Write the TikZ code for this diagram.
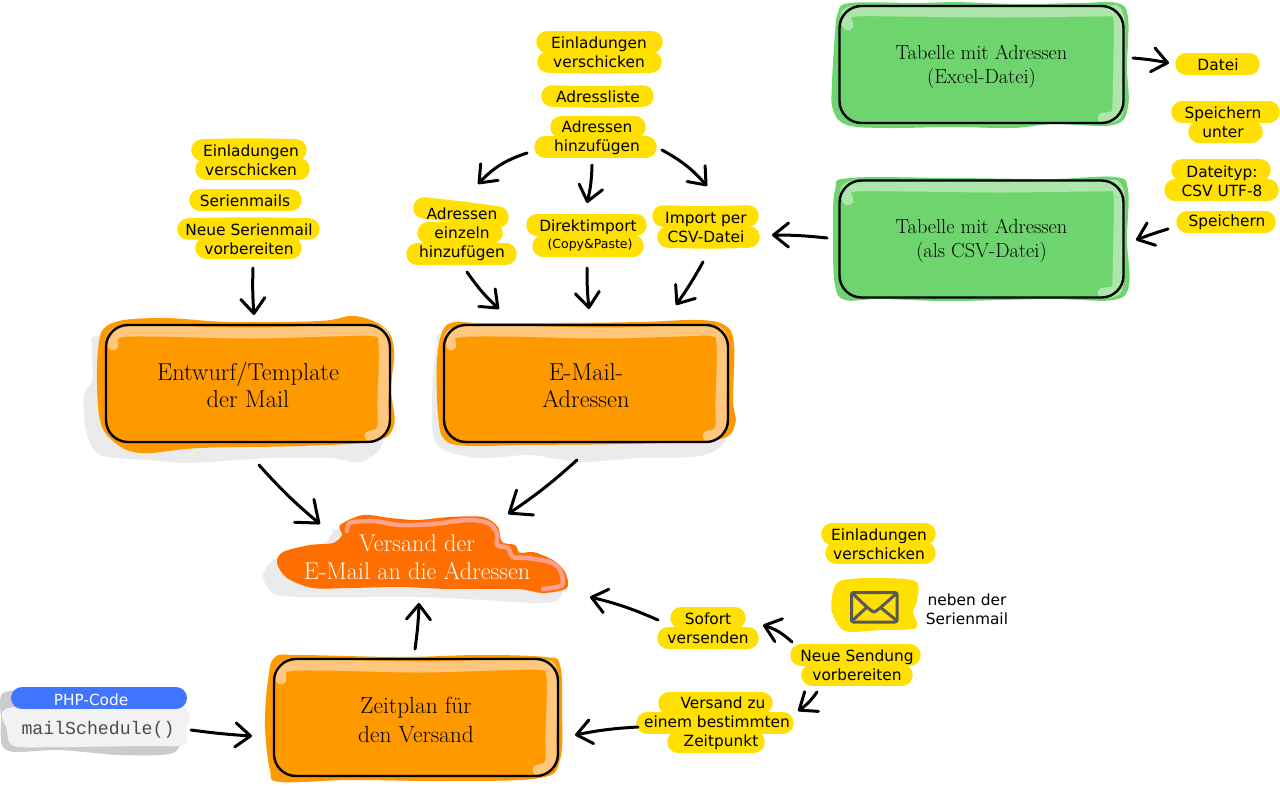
\documentclass[tikz,border=0pt]{standalone}
\usepackage{fontspec}
\newfontfamily\lblfont{DejaVu Sans}
\newfontfamily\codefont{Liberation Mono}
\usetikzlibrary{arrows.meta}
\definecolor{cOrange}{HTML}{FF9900}
\definecolor{cOrangeHi}{HTML}{FFC77D}
\definecolor{cGreen}{HTML}{6DD46E}
\definecolor{cGreenHi}{HTML}{AEE5AA}
\definecolor{cYellow}{HTML}{FFE000}
\definecolor{cDark}{HTML}{FF6E00}
\definecolor{cDarkHi}{HTML}{FFA08A}
\definecolor{cShadow}{HTML}{EBEBEB}
\definecolor{cBlue}{HTML}{3F75FF}
\definecolor{cCode}{HTML}{F2F2F2}
\definecolor{cCodeSh}{HTML}{CCCCCC}
\definecolor{cEnv}{HTML}{595959}
\tikzset{
  conn/.style={line width=3pt,line cap=round,-{Straight Barb[length=15pt,width=24pt,round]}},
  connbig/.style={line width=3pt,line cap=round,-{Straight Barb[length=19pt,width=30pt,round]}},
  marker/.style={draw=cYellow,line width=21.5pt,line cap=round,line join=round},
  hilite/.style={line width=11pt,line cap=round,line join=round},
  bigbox/.style={draw=black,line width=2.4pt,rounded corners=22pt,minimum width=284pt,minimum height=117pt,inner sep=0pt,font=\fontsize{24.4}{27.5}\selectfont},
  greenbox/.style={bigbox,font=\fontsize{20.3}{24}\selectfont},
  lbl/.style={inner sep=0pt,align=center,yshift=-1pt,font=\lblfont\fontsize{15.4}{19.2}\selectfont},
}
\newcommand{\mk}[4]{\draw[marker] plot[smooth] coordinates {({#1+10},{#3}) ({(#1+#2)/2},{#3+#4}) ({#2-10},{#3})};}
\newcommand{\dn}[2]{\raisebox{-#1}[\height][\depth]{\begin{tabular}{@{}c@{}}#2\end{tabular}}}
\begin{document}
\begin{tikzpicture}[x=1pt,y=-1pt]
\useasboundingbox (0,0) rectangle (1280,785);
% ---------- shadows
\fill[cShadow] plot[smooth cycle,tension=0.5] coordinates {(105,335)(92,347)(93,378)(84,395)(86,430)(100,455)(150,460)(190,463)(270,458)(330,458)(360,462)(382,445)(385,400)(380,345)(250,335)};
\fill[cShadow] plot[smooth cycle,tension=0.5] coordinates {(450,332)(437,347)(432,400)(437,445)(480,458)(530,455)(580,462)(640,458)(700,456)(726,440)(726,400)(720,345)(580,335)};
\fill[cShadow] plot[smooth cycle,tension=0.5] coordinates {(342,530)(333,532)(323,543)(277,558)(263,575)(273,593)(300,597)(417,597)(483,600)(540,603)(560,598)(560,570)(480,540)};
% ---------- orange blobs
\fill[cOrange] plot[smooth cycle,tension=0.6] coordinates {(110,324)(160,318)(230,322)(320,321)(355,316)(385,328)(394,350)(391,390)(394,425)(375,441)(300,446)(200,448)(140,453)(112,440)(99,415)(98,350)};
\fill[cOrange] plot[smooth cycle,tension=0.6] coordinates {(443,330)(455,322)(480,323)(560,323)(640,322)(700,320)(726,326)(734,345)(733,400)(735,425)(715,440)(620,444)(520,445)(470,446)(445,440)(438,415)(437,360)};
\fill[cOrange] plot[smooth cycle,tension=0.6] coordinates {(275,657)(300,655)(400,657)(480,655)(545,657)(560,665)(562,710)(560,760)(540,778)(450,781)(350,780)(280,782)(270,770)(265,725)(268,680)};
% ---------- green blobs
\fill[cGreen] plot[smooth cycle,tension=0.6] coordinates {(838,13)(850,3)(920,3)(953,2)(1020,4)(1080,3)(1117,3)(1128,17)(1127,67)(1128,107)(1113,125)(1053,124)(1013,128)(953,127)(887,128)(847,125)(833,110)(832,83)(835,33)};
\fill[cGreen] plot[smooth cycle,tension=0.6] coordinates {(835,190)(850,178)(950,178)(1050,179)(1115,177)(1128,190)(1127,240)(1129,285)(1113,300)(1050,299)(950,301)(880,299)(845,300)(835,285)(833,240)};
% ---------- highlights
\draw[hilite,cOrangeHi] plot[smooth,tension=0.6] coordinates {(113,345)(116,333)(150,331)(250,333)(330,331)(376,331)(384,343)(383,400)(382,430)(370,436)};
\draw[hilite,cOrangeHi] plot[smooth,tension=0.6] coordinates {(451,345)(454,333)(500,331)(600,333)(680,331)(714,331)(722,343)(721,400)(720,430)(708,436)};
\draw[hilite,cOrangeHi] plot[smooth,tension=0.6] coordinates {(281,679)(284,667)(318,665)(418,667)(498,665)(544,665)(552,677)(551,734)(550,764)(538,770)};
\draw[hilite,cGreenHi] plot[smooth,tension=0.6] coordinates {(848,25)(850,12)(900,11)(1000,12)(1100,11)(1117,13)(1119,40)(1118,100)(1116,115)(1103,118)};
\draw[hilite,cGreenHi] plot[smooth,tension=0.6] coordinates {(848,200)(850,187)(900,186)(1000,187)(1100,186)(1117,188)(1119,215)(1118,275)(1116,290)(1103,293)};
% ---------- Versand cloud
\fill[cDark] plot[smooth cycle,tension=0.5] coordinates {(340,525)(363,515)(390,518)(417,520)(450,517)(483,517)(498,527)(502,542)(515,545)(520,553)(533,552)(553,560)(565,572)(567,588)(543,593)(517,589)(450,589)(400,587)(350,588)(313,588)(287,578)(277,563)(283,552)(310,545)(333,543)(342,535)};
\draw[cDarkHi,line width=4.5pt,line cap=round,line join=round] plot[smooth,tension=0.5] coordinates {(347,531)(350,523)(373,521)(400,525)(433,524)(467,520)(488,523)(497,533)(497,545)(508,548)(513,557)(527,558)(550,562)(560,570)(562,585)(543,589)};
% ---------- code panel
\fill[cCodeSh] plot[smooth cycle,tension=0.5] coordinates {(3,693)(40,692)(100,700)(175,720)(175,752)(120,755)(60,750)(15,752)(2,745)(1,720)};
\fill[cCode] plot[smooth cycle,tension=0.5] coordinates {(8,708)(100,706)(184,708)(186,730)(184,745)(140,746)(60,747)(14,746)(7,730)};
\draw[cBlue,line width=22pt,line cap=round] plot[smooth] coordinates {(22,698)(100,698)(176,698)};
% ---------- yellow markers
\mk{192}{306}{150}{-1}\mk{196}{309}{169}{0}
\mk{190}{301}{200}{0}
\mk{178}{319}{229}{-1}\mk{196}{301}{248}{0}
\mk{537}{662}{42}{0}\mk{538}{661}{62}{1}
\mk{542}{653}{96}{1}
\mk{551}{645}{127}{0}\mk{535}{656}{147}{0}
\draw[marker] plot[smooth] coordinates {(424,208)(460,212)(498,217)};
\mk{418}{502}{233}{0}\mk{407}{516}{254}{0}
\mk{527}{646}{225}{0}\mk{533}{643}{246}{0}
\mk{653}{758}{216}{1}\mk{658}{759}{237}{1}
\mk{1176}{1259}{64}{0}
\mk{1172}{1279}{112}{0}\mk{1189}{1262}{132}{0}
\mk{1172}{1270}{170}{0}\mk{1165}{1278}{190}{0}
\mk{1177}{1275}{222}{0}
\mk{822}{935}{534}{0}\mk{826}{935}{553}{0}
\mk{671}{745}{618}{0}\mk{658}{758}{638}{0}
\mk{791}{920}{655}{0}\mk{802}{912}{675}{0}
\mk{659}{772}{703}{0}\mk{637}{793}{723}{0}\mk{668}{764}{742}{0}
\fill[cYellow] plot[smooth cycle,tension=0.5] coordinates {(840,581)(870,578)(915,581)(917,600)(913,612)(916,628)(880,630)(845,631)(832,612)(833,592)};
% ---------- envelope
\draw[cEnv,line width=3pt,rounded corners=2pt] (851.5,592.5) rectangle (897,622);
\draw[cEnv,line width=3pt,line join=round] plot[smooth,tension=0.3] coordinates {(852,593)(868,608)(874,612)(880,608)(897,593)};
\draw[cEnv,line width=3pt] (853,620) -- (867,607) (896,620) -- (880,607);
% ---------- big boxes
\node[bigbox] (entwurf) at (248,383.5) {\dn{5pt}{Entwurf/Template\\der Mail}};
\node[bigbox] (email) at (586,383.5) {\dn{5pt}{E-Mail-\\Adressen}};
\node[bigbox,font=\fontsize{23.4}{29}\selectfont] (zeitplan) at (416,717.5) {\dn{5pt}{Zeitplan für\\den Versand}};
\node[greenbox] (excel) at (981.5,64.5) {\dn{2pt}{Tabelle mit Adressen\\(Excel-Datei)}};
\node[greenbox] (csv) at (981.5,239) {\dn{2pt}{Tabelle mit Adressen\\(als CSV-Datei)}};
\node[inner sep=0pt,align=center,text=white,font=\fontsize{24.2}{28}\selectfont] (versand) at (417,557) {Versand der\\E-Mail an die Adressen};
% ---------- labels
\node[lbl] (l1) at (251,159.5) {Einladungen\\verschicken};
\node[lbl] (l2) at (245,200) {Serienmails};
\node[lbl] (l3) at (249,238.5) {Neue Serienmail\\vorbereiten};
\node[lbl] (c1) at (599,51.5) {Einladungen\\verschicken};
\node[lbl] (c2) at (598,96) {Adressliste};
\node[lbl] (c3) at (597,137) {Adressen\\hinzufügen};
\node[lbl] (c4) at (462,233.5) {Adressen\\einzeln\\hinzufügen};
\node[lbl] (c5) at (588,234.5) {Direktimport\\[-2pt]{\fontsize{12.5}{15}\selectfont\hspace*{4pt}(Copy\&Paste)}};
\node[lbl] (c6) at (706,226.5) {Import per\\CSV-Datei};
\node[lbl] (r1) at (1218,64) {Datei};
\node[lbl] (r2) at (1223,121.5) {Speichern\\unter};
\node[lbl] (r3) at (1222,180) {Dateityp:\\CSV UTF-8};
\node[lbl] (r4) at (1227,221) {Speichern};
\node[lbl] (e1) at (879,543.5) {Einladungen\\verschicken};
\node[lbl] (e2) at (967,608.5) {neben der\\Serienmail};
\node[lbl] (s1) at (708,627.5) {Sofort\\versenden};
\node[lbl] (s2) at (857,664.5) {Neue Sendung\\vorbereiten};
\node[lbl] (s3) at (717,722.5) {\hspace*{12pt}Versand zu\\einem bestimmten\\\hspace*{8pt}Zeitpunkt};
\node[inner sep=0pt,text=white,font=\lblfont\fontsize{15.3}{18}\selectfont] (php) at (91,699.5) {PHP-Code};
\node[inner sep=0pt,text=black!70,font=\codefont\fontsize{18.2}{20}\selectfont] (code) at (98,729.5) {mailSchedule()};
% ---------- connectors
\draw[conn] ([shift={(4,28.5)}]l3.center) to[bend right=3] ([shift={(5,75.5)}]l3.center);
\draw[conn] ([shift={(-70,15)}]c3.center) to[bend right=14] ([shift={(-119,46)}]c3.center);
\draw[conn] ([shift={(-5,27)}]c3.center) to[bend left=6] ([shift={(-10,65)}]c3.center);
\draw[conn] ([shift={(65,12)}]c3.center) to[bend left=10] ([shift={(110,48)}]c3.center);
\draw[conn] ([shift={(5,37.5)}]c4.center) to[bend right=6] ([shift={(37,74.5)}]c4.center);
\draw[conn] ([shift={(-1,32.5)}]c5.center) to[bend right=3] ([shift={(1,73.5)}]c5.center);
\draw[conn] ([shift={(-3,34.5)}]c6.center) to[bend left=3] ([shift={(-30,77.5)}]c6.center);
\draw[conn] ([shift={(-154.5,-1)}]csv.center) to[bend right=3] ([shift={(-209.5,-4)}]csv.center);
\draw[conn] ([shift={(151.5,-6.5)}]excel.center) to[bend left=3] ([shift={(187.5,-1.5)}]excel.center);
\draw[conn] ([shift={(-59,7)}]r4.center) to[bend right=2] ([shift={(-91,18)}]r4.center);
\draw[connbig] ([shift={(11,81.5)}]entwurf.center) to[bend right=4] ([shift={(72,140.5)}]entwurf.center);
\draw[connbig] ([shift={(-9,76.5)}]email.center) to[bend left=4] ([shift={(-78,130.5)}]email.center);
\draw[conn] ([shift={(-1,-68.5)}]zeitplan.center) to[bend right=3] ([shift={(3,-114.5)}]zeitplan.center);
\draw[conn] ([shift={(-50,-8.5)}]s1.center) to[bend right=5] ([shift={(-118,-31.5)}]s1.center);
\draw[conn] ([shift={(-65,-23.5)}]s2.center) to[bend right=12] ([shift={(-94,-40.5)}]s2.center);
\draw[conn] ([shift={(-40,26.5)}]s2.center) to[bend left=10] ([shift={(-59,45.5)}]s2.center);
\draw[conn] ([shift={(-79,3.5)}]s3.center) to[bend right=4] ([shift={(-142,11.5)}]s3.center);
\draw[conn] ([shift={(93,0.5)}]code.center) to[bend right=2] ([shift={(154,6.5)}]code.center);
\end{tikzpicture}
\end{document}
